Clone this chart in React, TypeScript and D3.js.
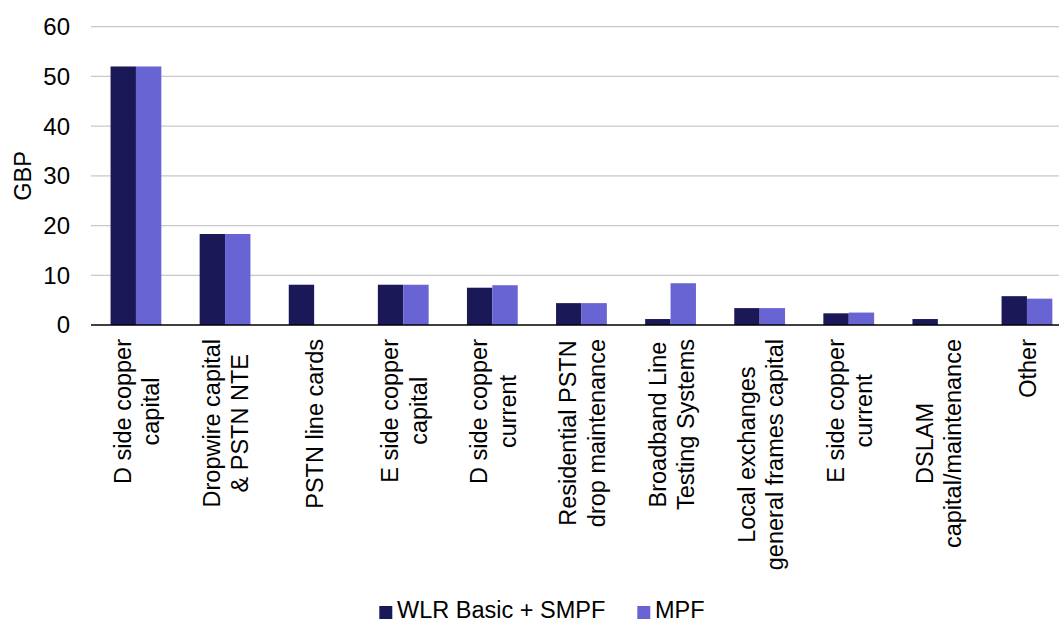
import React, { useMemo } from "react";
import * as d3 from "d3";

// Cost components per line (GBP)
const categories: string[] = [
  "D side copper\ncapital",
  "Dropwire capital\n& PSTN NTE",
  "PSTN line cards",
  "E side copper\ncapital",
  "D side copper\ncurrent",
  "Residential PSTN\ndrop maintenance",
  "Broadband Line\nTesting Systems",
  "Local exchanges\ngeneral frames capital",
  "E side copper\ncurrent",
  "DSLAM\ncapital/maintenance",
  "Other",
];

const seriesNames: string[] = ["WLR Basic + SMPF", "MPF"];
const wlrValues: number[] = [52, 18.3, 8.1, 8.1, 7.5, 4.4, 1.2, 3.4, 2.35, 1.2, 5.8];
const mpfValues: number[] = [52, 18.3, 0, 8.1, 8.0, 4.4, 8.4, 3.4, 2.5, 0, 5.3];
const yTicks: number[] = [0, 10, 20, 30, 40, 50, 60];

const colors = ["#1B1858", "#6864D3"];
const FONT = "'Liberation Sans', Arial, Helvetica, sans-serif";

const W = 1059;
const H = 623;

export default function App() {
  const x = d3
    .scaleBand<string>()
    .domain(categories)
    .range([91.4, 1071.5])
    .paddingInner(0.43)
    .paddingOuter(0.215);
  const xSub = d3
    .scaleBand<string>()
    .domain(seriesNames)
    .range([0, x.bandwidth()])
    .padding(0);
  const y = d3.scaleLinear().domain([0, 60]).range([325, 26.7]);

  const series = [wlrValues, mpfValues];

  const labelSize = 23.5;
  const measure = useMemo(() => {
    const c = document.createElement("canvas").getContext("2d");
    return (s: string) => {
      if (!c) return s.length * labelSize * 0.5;
      c.font = `${labelSize}px ${FONT}`;
      return c.measureText(s).width;
    };
  }, []);

  const lineGap = 28.4;

  return (
    <svg
      width={W}
      height={H}
      style={{ position: "fixed", left: 0, top: 0, background: "#fff" }}
      fontFamily={FONT}
    >
      {/* gridlines */}
      {yTicks
        .filter((t) => t !== 0)
        .map((t) => (
          <line
            key={`g${t}`}
            x1={91}
            x2={W}
            y1={y(t)}
            y2={y(t)}
            stroke="#C8C8C8"
            strokeWidth={1.2}
          />
        ))}

      {/* bars */}
      {categories.map((cat, i) => (
        <g key={cat} transform={`translate(${x(cat)},0)`}>
          {series.map((vals, s) =>
            vals[i] > 0 ? (
              <rect
                key={s}
                x={xSub(seriesNames[s])}
                y={y(vals[i])}
                width={xSub.bandwidth()}
                height={y(0) - y(vals[i])}
                fill={colors[s]}
              />
            ) : null
          )}
        </g>
      ))}

      {/* baseline axis */}
      <line x1={91} x2={W} y1={y(0)} y2={y(0)} stroke="#000" strokeWidth={1.5} />

      {/* y tick labels */}
      {yTicks.map((t) => (
        <text
          key={`t${t}`}
          x={70}
          y={y(t)}
          dy="0.35em"
          textAnchor="end"
          fontSize={24}
          fill="#000"
        >
          {t}
        </text>
      ))}

      {/* y axis title */}
      <text
        transform={`translate(31,176) rotate(-90)`}
        textAnchor="middle"
        fontSize={23.5}
        fill="#000"
      >
        GBP
      </text>

      {/* category labels */}
      {categories.map((cat) => {
        const lines = cat.split("\n");
        const maxW = Math.max(...lines.map(measure));
        const cy = 339 + maxW / 2;
        const cx = (x(cat) ?? 0) + x.bandwidth() / 2 + 1;
        return (
          <g key={`l${cat}`}>
            {lines.map((ln, k) => {
              const lx = cx + (k - (lines.length - 1) / 2) * lineGap + labelSize * 0.35;
              return (
                <text
                  key={k}
                  transform={`translate(${lx},${cy}) rotate(-90)`}
                  textAnchor="middle"
                  fontSize={labelSize}
                  fill="#000"
                >
                  {ln}
                </text>
              );
            })}
          </g>
        );
      })}

      {/* legend */}
      <g>
        <rect x={379.3} y={606} width={13} height={13} fill={colors[0]} />
        <text x={397} y={617.8} fontSize={23.5} fill="#000">
          {seriesNames[0]}
        </text>
        <rect x={637.3} y={606} width={13} height={13} fill={colors[1]} />
        <text x={655} y={617.8} fontSize={23.5} fill="#000">
          {seriesNames[1]}
        </text>
      </g>
    </svg>
  );
}
